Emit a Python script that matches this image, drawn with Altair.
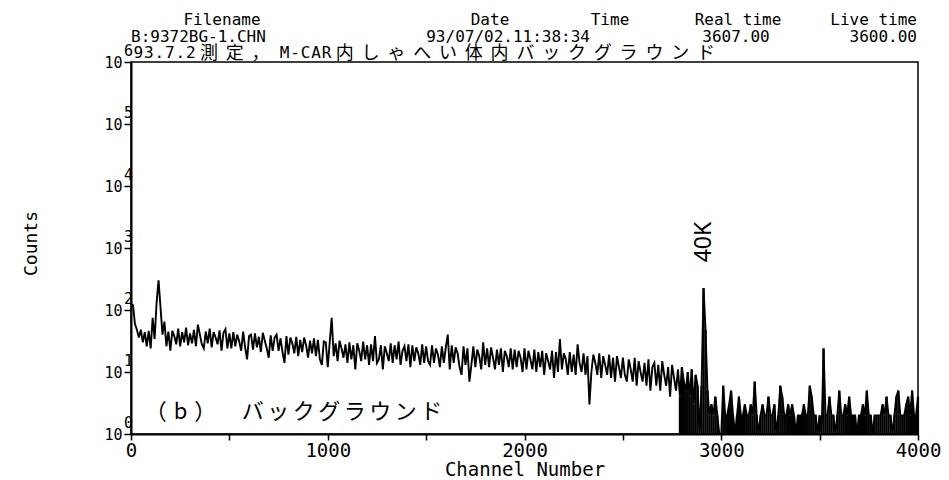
import altair as alt
import pandas as pd

# ---------------- data (counts per 10-channel step) ----------
counts_0000 = [125, 120, 60, 48, 36, 48, 30, 44, 26, 46,
               24, 75, 34, 130, 300, 110, 40, 65, 26, 45,
               22, 46, 38, 28, 50, 26, 44, 30, 52, 27,
               42, 29, 48, 26, 58, 40, 28, 24, 45, 29,
               50, 25, 44, 36, 28, 47, 22, 43, 49, 24]
counts_0500 = [42, 24, 44, 26, 40, 31, 22, 45, 25, 16,
               38, 40, 23, 42, 25, 37, 21, 43, 32, 24,
               17, 39, 22, 36, 40, 22, 35, 21, 14, 38,
               19, 36, 29, 20, 37, 18, 33, 21, 36, 27,
               17, 32, 20, 35, 18, 33, 16, 13, 31, 30]
counts_1000 = [12, 30, 75, 18, 29, 15, 32, 24, 17, 28,
               14, 30, 16, 27, 11, 29, 22, 15, 31, 16,
               27, 13, 28, 15, 38, 14, 16, 27, 11, 26,
               20, 15, 29, 14, 27, 16, 31, 13, 22, 26,
               15, 28, 12, 27, 15, 25, 20, 13, 28, 14]
counts_1500 = [26, 15, 13, 27, 14, 24, 19, 12, 26, 14,
               25, 40, 11, 27, 14, 25, 20, 12, 9, 26,
               13, 24, 7, 13, 26, 12, 23, 18, 11, 30,
               13, 24, 12, 25, 17, 11, 23, 13, 24, 10,
               22, 18, 12, 24, 11, 23, 12, 22, 17, 10]
counts_2000 = [24, 11, 22, 16, 11, 23, 10, 21, 12, 22,
               9, 20, 15, 11, 22, 8, 21, 10, 34, 11,
               20, 16, 9, 21, 10, 19, 9, 28, 14, 10,
               20, 9, 18, 3, 10, 19, 14, 9, 20, 8,
               18, 13, 9, 19, 8, 17, 7, 18, 12, 8]
counts_2500 = [17, 9, 7, 16, 11, 7, 17, 6, 15, 10,
               7, 14, 6, 16, 5, 12, 14, 6, 13, 5,
               15, 9, 6, 12, 4, 13, 8, 5, 11, 4,
               12, 7, 5, 10, 4, 11, 3, 9, 6, 1,
               6, 225, 48, 5, 2, 3, 2, 4, 2, 1]
counts_3000 = [1, 6, 2, 2, 3, 5, 2, 1, 2, 4,
               2, 2, 3, 2, 2, 3, 2, 7, 2, 1,
               2, 3, 2, 2, 4, 2, 2, 3, 1, 2,
               6, 4, 2, 2, 3, 2, 3, 2, 1, 2,
               2, 2, 3, 2, 2, 6, 4, 2, 2, 1]
counts_3500 = [2, 1, 24, 2, 2, 4, 2, 2, 1, 2,
               5, 2, 2, 3, 2, 4, 2, 2, 2, 1,
               2, 2, 3, 2, 5, 2, 2, 1, 2, 2,
               2, 2, 3, 2, 4, 2, 2, 1, 2, 4,
               5, 2, 2, 2, 3, 4, 2, 5, 2, 2, 4]
low_count_start = 2790   # from here on the trace fills down to the axis

x_ticks = [0, 500, 1000, 1500, 2000, 2500, 3000, 3500, 4000]
y_ticks = [1, 10, 100, 1000, 10000, 100000, 1000000]
y_exponents = ["0", "1", "2", "3", "4", "5", "6"]

header_titles = ["Filename", "Date", "Time", "Real time", "Live time"]
header_values = ["B:9372BG-1.CHN", "93/07/02.11:38:34", "3607.00", "3600.00"]
comment = "93.7.2測定， M-CAR内しゃへい体内バックグラウンド"
panel_label = "（b） バックグラウンド"
peak_label = "40K"
peak_channel = 2912

# ---------------- tables ----------------
counts = (counts_0000 + counts_0500 + counts_1000 + counts_1500 +
          counts_2000 + counts_2500 + counts_3000 + counts_3500)
channels = list(range(0, 10 * len(counts), 10))
spec_df = pd.DataFrame({"channel": channels, "counts": counts})
exp_df = pd.DataFrame({"val": y_ticks, "exp": y_exponents})

MONO = "DejaVu Sans Mono"
CJK = "Noto Sans CJK JP"
W, H = 787, 372


def char_layout(text, start, adv_half, adv_full, adv_space):
    rows, xpos = [], start
    for c in text:
        full = ord(c) > 0x2E7F
        adv = adv_space if c in " 　" else (adv_full if full else adv_half)
        if c not in " 　":
            rows.append({"ch": c, "px": xpos + adv / 2, "full": full})
        xpos += adv
    return pd.DataFrame(rows)


comment_df = char_layout(comment, 2.0, 10.5, 25.8, 6.0)
label_df = char_layout(panel_label, 12.0, 24.0, 25.5, 22.0)
label_df["full"] = True

xscale = alt.Scale(domain=[0, 4000], nice=False, zero=False)
yscale = alt.Scale(type="log", domain=[1, 1000000], nice=False)

x_axis = alt.Axis(values=x_ticks, grid=False,
                  labelExpr="datum.value % 1000 == 0 ? datum.label : ''",
                  format="d", labelFont=MONO, labelFontSize=19,
                  labelColor="black", tickSize=6, labelPadding=1,
                  labelFlush=False, title="Channel Number",
                  titleFont=MONO, titleFontSize=19,
                  titleFontWeight="normal", titleColor="black",
                  titleBaseline="alphabetic", titleY=41)
y_axis = alt.Axis(values=y_ticks, grid=False, labelExpr="'10'",
                  labelFont=MONO, labelFontSize=15, labelColor="black",
                  tickSize=7, labelPadding=2, title="Counts",
                  titleFont=MONO, titleFontSize=18,
                  titleFontWeight="normal", titleColor="black",
                  titleAngle=270, titleX=-100, titleY=181,
                  titleAlign="center", titleBaseline="middle")

line = alt.Chart(spec_df).mark_line(
    color="black", strokeWidth=1.9).encode(
    x=alt.X("channel:Q", scale=xscale, axis=x_axis),
    y=alt.Y("counts:Q", scale=yscale, axis=y_axis),
)

fill = alt.Chart(spec_df).transform_filter(
    alt.datum.channel >= low_count_start).mark_rule(
    color="black", strokeWidth=2.2).encode(
    x=alt.X("channel:Q", scale=xscale),
    y=alt.Y("counts:Q", scale=yscale),
    y2=alt.value(H),
)

exps = alt.Chart(exp_df).mark_text(
    font=MONO, fontSize=15, align="left", baseline="alphabetic", dy=-6,
    color="black").encode(
    y=alt.Y("val:Q", scale=yscale), x=alt.value(-7), text="exp:N")


def txt(s, x, y, align="left", font=MONO, size=16, **kw):
    return alt.Chart(pd.DataFrame({"t": [s]})).mark_text(
        font=font, fontSize=size, align=align, baseline="alphabetic",
        color="black", **kw).encode(x=alt.value(x), y=alt.value(y), text="t:N")


hdr = [
    txt(header_titles[0], 91, -37, "center"),
    txt(header_titles[1], 359, -37, "center"),
    txt(header_titles[2], 479, -37, "center"),
    txt(header_titles[3], 607, -37, "center"),
    txt(header_titles[4], 786, -37, "right"),
    txt(header_values[0], 0, -20, "left"),
    txt(header_values[1], 459, -20, "right"),
    txt(header_values[2], 605, -20, "center"),
    txt(header_values[3], 786, -20, "right"),
]

comment_ascii = alt.Chart(comment_df).transform_filter("!datum.full").mark_text(
    font=MONO, fontSize=16, align="center", baseline="alphabetic",
    color="black").encode(x=alt.X("px:Q", scale=None), y=alt.value(-4),
                          text="ch:N")
comment_cjk = alt.Chart(comment_df).transform_filter("datum.full").mark_text(
    font=CJK, fontSize=18, align="center", baseline="alphabetic",
    color="black").encode(x=alt.X("px:Q", scale=None), y=alt.value(-3),
                          text="ch:N")

label_b = alt.Chart(label_df).mark_text(
    font=CJK, fontSize=22, align="center", baseline="alphabetic",
    color="black").encode(x=alt.X("px:Q", scale=None), y=alt.value(357),
                          text="ch:N")

k40 = alt.Chart(pd.DataFrame({"c": [peak_channel], "t": [peak_label]})).mark_text(
    font="Noto Sans", fontSize=23, angle=270, align="center", baseline="middle",
    color="black").encode(x=alt.X("c:Q", scale=xscale), y=alt.value(180),
                          text="t:N")

chart = alt.layer(fill, line, exps, *hdr, comment_ascii, comment_cjk,
                  label_b, k40).properties(
    width=W, height=H,
    autosize=alt.AutoSizeParams(type="none"),
    padding={"left": 131, "top": 62, "right": 31, "bottom": 46},
    background="white",
).configure_view(stroke="black", strokeWidth=1.5).configure_axis(
    domainColor="black", domainWidth=2, tickColor="black", tickWidth=1.5)

chart.save("out.html", embed_options={"renderer": "svg", "actions": False})
